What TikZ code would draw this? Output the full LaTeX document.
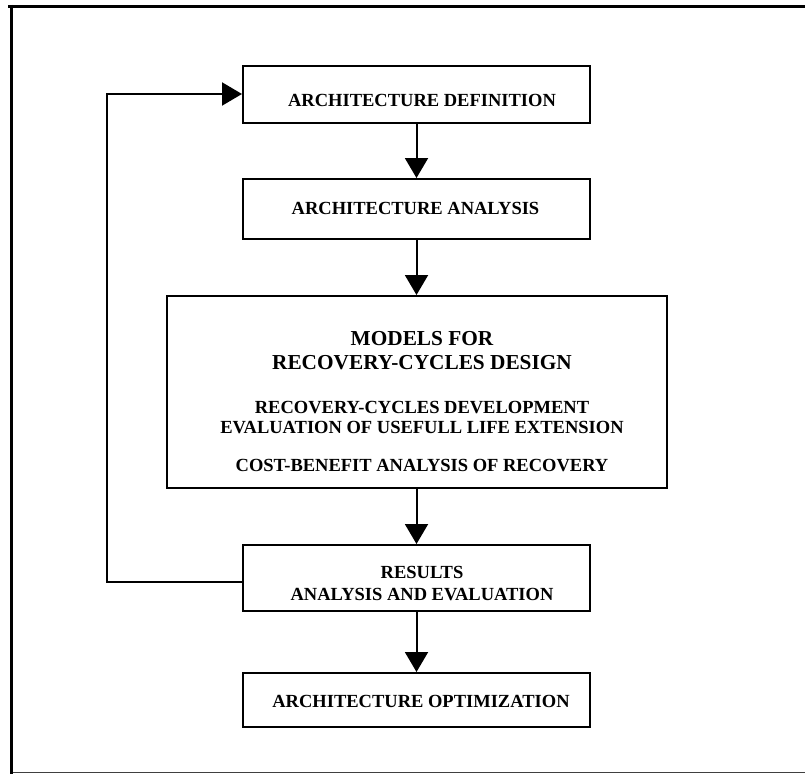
\documentclass[tikz,border=0pt]{standalone}
\usepackage{fontspec}
\setmainfont{Liberation Serif}
\usetikzlibrary{arrows.meta}
\begin{document}
\begin{tikzpicture}[x=1bp,y=-1bp,
  box/.style={draw,line width=2bp,inner sep=0pt,anchor=north west},
  lbl/.style={anchor=base,inner sep=0pt,font=\bfseries\fontsize{18.5bp}{20bp}\selectfont},
  ttl/.style={anchor=base,inner sep=0pt,font=\bfseries\fontsize{21.3bp}{24bp}\selectfont},
  conn/.style={line width=2bp,-{Triangle[width=23bp,length=20bp]}}]
\useasboundingbox (0,0) rectangle (805,774);
% outer frame
\draw[line width=3bp] (8,6.5) -- (805,6.5);
\draw[line width=3.5bp] (11.5,5) -- (11.5,774);
\draw[line width=1.2bp,black!75] (13,772.4) -- (805,772.4);
% boxes
\node[box,minimum width=347bp,minimum height=57bp] (b1) at (242,65) {};
\node[box,minimum width=347bp,minimum height=60bp] (b2) at (242,178) {};
\node[box,minimum width=500bp,minimum height=192bp] (b3) at (166,295) {};
\node[box,minimum width=347bp,minimum height=66bp] (b4) at (242,544) {};
\node[box,minimum width=347bp,minimum height=54bp] (b5) at (242,672) {};
% texts
\node[lbl] (t1) at (422,106.1) {ARCHITECTURE DEFINITION};
\node[lbl] (t2) at (415.5,214.1) {ARCHITECTURE ANALYSIS};
\node[ttl] (t3a) at (422,345) {MODELS FOR};
\node[ttl] (t3b) at (422,369) {RECOVERY-CYCLES DESIGN};
\node[lbl] (t3c) at (422,413.1) {RECOVERY-CYCLES DEVELOPMENT};
\node[lbl] (t3d) at (422,433.1) {EVALUATION OF USEFULL LIFE EXTENSION};
\node[lbl] (t3e) at (422,471.1) {COST-BENEFIT ANALYSIS OF RECOVERY};
\node[lbl] (t4a) at (422,578.8) {RESULTS};
\node[lbl] (t4b) at (422,600.1) {ANALYSIS AND EVALUATION};
\node[lbl] (t5) at (421,707.8) {ARCHITECTURE OPTIMIZATION};
% connectors
\coordinate (fb1) at (107,582);
\coordinate (fb2) at (107,94);
\draw[conn] (b1.south) -- (b2.north);
\draw[conn] (b2.south) -- (b2.south |- b3.north);
\draw[conn] (b4.north |- b3.south) -- (b4.north);
\draw[conn] (b4.south) -- (b5.north);
\draw[conn] (b4.west |- fb1) -- (fb1) -- (fb2) -- (b1.west |- fb2);
\end{tikzpicture}
\end{document}
